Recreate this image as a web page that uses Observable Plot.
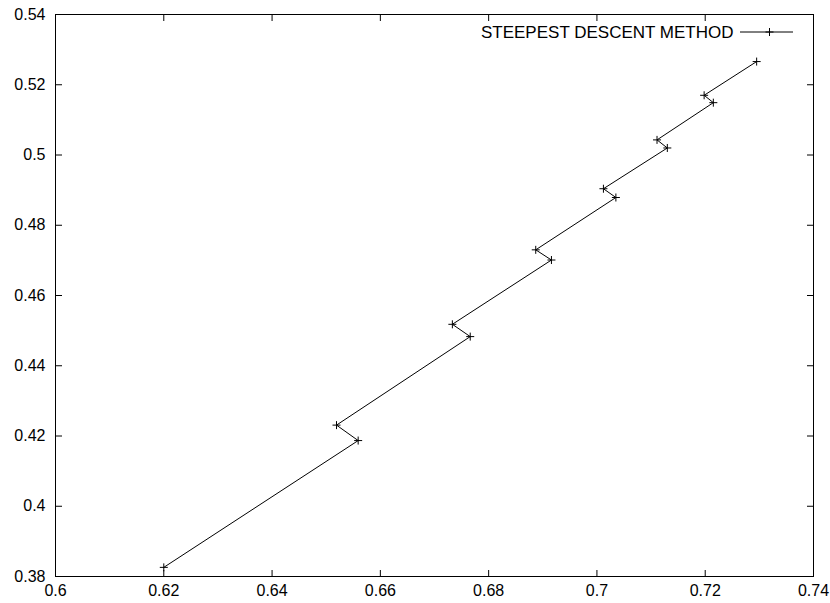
<!DOCTYPE html>
<html>
<head>
<meta charset="utf-8">
<script src="https://cdn.jsdelivr.net/npm/d3@7"></script>
<script src="https://cdn.jsdelivr.net/npm/@observablehq/plot@0.6"></script>
<style>
  body { margin: 0; background: #fff; }
  #chart { width: 830px; height: 603px; }
  svg { font-family: "Liberation Sans", Arial, sans-serif; }
</style>
</head>
<body>
<div id="chart"></div>
<script>
// Steepest descent iterates
const xs = [0.6200, 0.6559, 0.6519, 0.6766, 0.6733, 0.6916, 0.6887, 0.7035, 0.7012, 0.7130, 0.7111, 0.7215, 0.7198, 0.7295];
const ys = [0.3826, 0.4187, 0.4231, 0.4483, 0.4518, 0.4701, 0.4730, 0.4879, 0.4904, 0.5020, 0.5043, 0.5149, 0.5170, 0.5266];
const xTicks = [0.6, 0.62, 0.64, 0.66, 0.68, 0.7, 0.72, 0.74];
const yTicks = [0.38, 0.4, 0.42, 0.44, 0.46, 0.48, 0.5, 0.52, 0.54];
const seriesName = "STEEPEST DESCENT METHOD";

const data = xs.map((x, i) => ({x, y: ys[i]}));
const fmt = d => String(+d.toFixed(2));

const cross = {
  draw(ctx, size) {
    const r = Math.sqrt(size / Math.PI);
    ctx.moveTo(-r, 0); ctx.lineTo(r, 0);
    ctx.moveTo(0, -r); ctx.lineTo(0, r);
  }
};

const W = 830, H = 603, mL = 55, mR = 17, mT = 14, mB = 27;

const chart = Plot.plot({
  width: W, height: H,
  marginLeft: mL, marginRight: mR, marginTop: mT, marginBottom: mB,
  style: {fontSize: "16px", fontFamily: "'Liberation Sans', Arial, sans-serif", color: "#000", background: "#fff"},
  x: {domain: [0.6, 0.74]},
  y: {domain: [0.38, 0.54]},
  marks: [
    Plot.axisX(xTicks, {anchor: "bottom", tickSize: -6, tickPadding: 14, tickFormat: fmt, label: null, stroke: "#000"}),
    Plot.axisX(xTicks, {anchor: "top", tickSize: -6, tickFormat: () => "", label: null, stroke: "#000"}),
    Plot.axisY(yTicks, {anchor: "left", tickSize: -7, tickPadding: 17, tickFormat: fmt, label: null, stroke: "#000"}),
    Plot.axisY(yTicks, {anchor: "right", tickSize: -7, tickFormat: () => "", label: null, stroke: "#000"}),
    Plot.frame({stroke: "#000", strokeWidth: 1}),
    Plot.line(data, {x: "x", y: "y", stroke: "#000", strokeWidth: 1}),
    Plot.dot(data, {x: "x", y: "y", symbol: cross, r: 4, stroke: "#000", strokeWidth: 1, fill: "none"}),
    Plot.text([seriesName], {frameAnchor: "top-right", dx: -80, dy: 18, textAnchor: "end", lineAnchor: "middle", fontSize: 17, fill: "#000"})
  ]
});

// legend sample (line with cross) inside the plot frame
const svg = d3.select(chart);
const ly = mT + 18;
const lx2 = W - mR - 20, lx1 = lx2 - 53;
const g = svg.append("g").attr("stroke", "#000").attr("fill", "none");
g.append("line").attr("x1", lx1).attr("x2", lx2).attr("y1", ly).attr("y2", ly);
const cx = (lx1 + lx2) / 2 + 3;
g.append("path").attr("d", `M${cx-4},${ly}H${cx+4}M${cx},${ly-4}V${ly+4}`);

document.getElementById("chart").appendChild(chart);
</script>
</body>
</html>
